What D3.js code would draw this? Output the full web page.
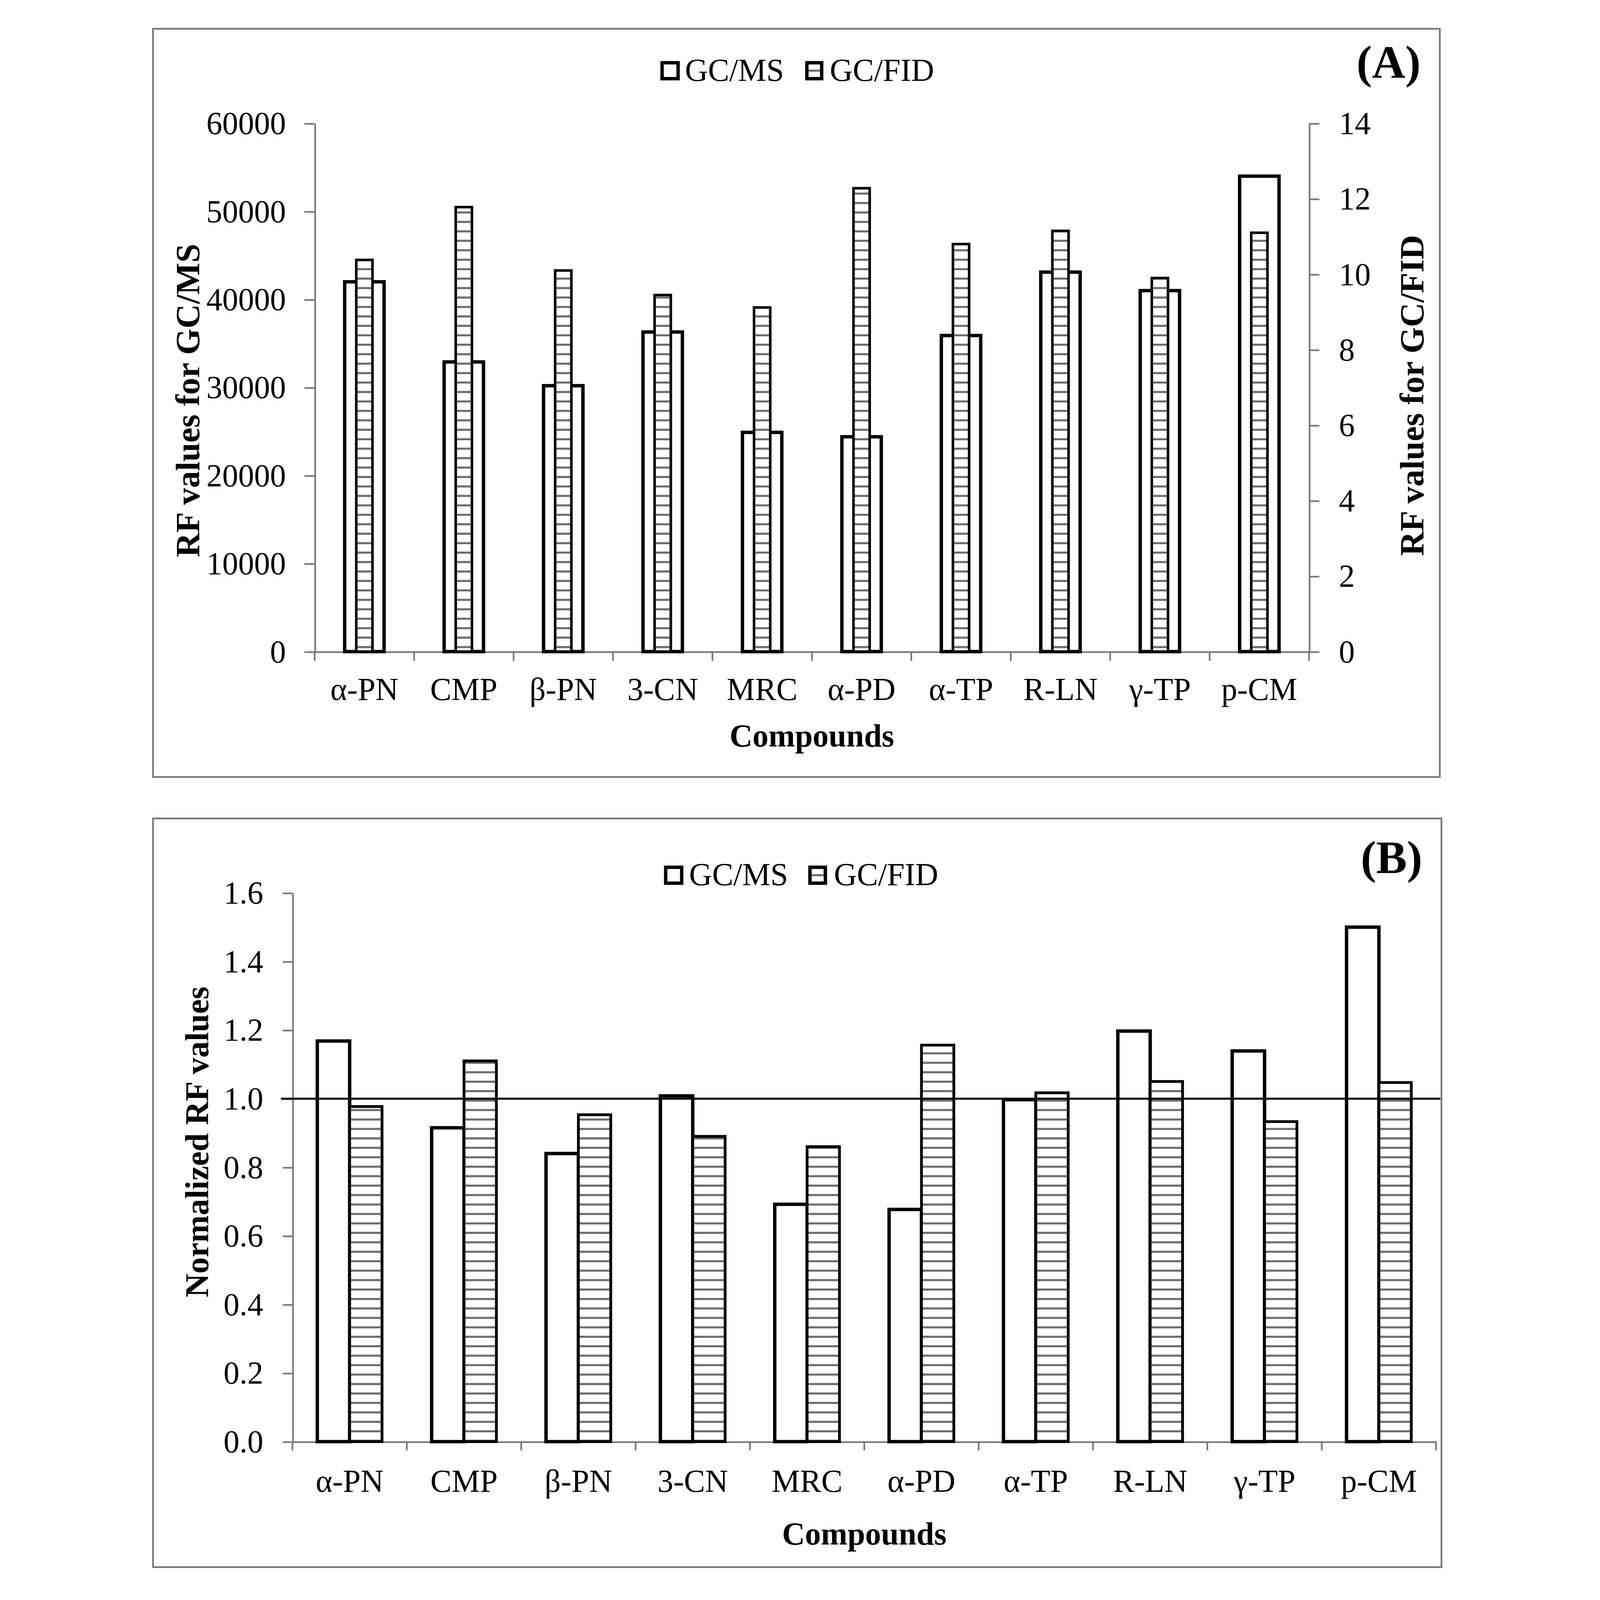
<!DOCTYPE html>
<html>
<head>
<meta charset="utf-8">
<script src="https://cdn.jsdelivr.net/npm/d3@7"></script>
<style>
  html, body { margin: 0; padding: 0; background: #fff; overflow: hidden; }
  .chart svg { display: block; width: 100vw; height: 100vh; }
  text { font-family: "Liberation Serif", "Times New Roman", serif; }
</style>
</head>
<body>
<div class="chart"></div>
<script>
// data ------
const compounds = ["α-PN", "CMP", "β-PN", "3-CN", "MRC", "α-PD", "α-TP", "R-LN", "γ-TP", "p-CM"];
const seriesNames = ["GC/MS", "GC/FID"];
// panel A, raw response factors
const rfMS = [42000, 32900, 30200, 36300, 24900, 24400, 35900, 43100, 41000, 54000];
const rfFID = [10.38, 11.78, 10.10, 9.45, 9.12, 12.28, 10.80, 11.15, 9.90, 11.10];
// panel B, normalized
const normMS = [1.168, 0.915, 0.840, 1.008, 0.692, 0.677, 0.997, 1.197, 1.139, 1.500];
const normFID = [0.977, 1.110, 0.953, 0.890, 0.860, 1.156, 1.017, 1.050, 0.933, 1.047];
const msTicks = [0, 10000, 20000, 30000, 40000, 50000, 60000];
const fidTicks = [0, 2, 4, 6, 8, 10, 12, 14];
const normTicks = [0, 0.2, 0.4, 0.6, 0.8, 1.0, 1.2, 1.4, 1.6];

const W = 1328, H = 1558;
const gray = "#777";

const svg = d3.select(".chart")
  .append("svg")
  .attr("viewBox", `0 0 ${W} ${H}`)
  .attr("preserveAspectRatio", "xMidYMid meet");

const defs = svg.append("defs");
const pat = defs.append("pattern")
  .attr("id", "hstripe")
  .attr("patternUnits", "userSpaceOnUse")
  .attr("width", 10)
  .attr("height", 9.2);
pat.append("rect").attr("width", 10).attr("height", 9.2).attr("fill", "#fff");
pat.append("rect").attr("y", 3.5).attr("width", 10).attr("height", 2).attr("fill", "#6b6b6b");

function styleAxis(g) {
  g.attr("font-family", "Liberation Serif, Times New Roman, serif").attr("font-size", 31);
  g.selectAll(".domain").attr("stroke", gray).attr("stroke-width", 1.6);
  g.selectAll(".tick line").attr("stroke", gray).attr("stroke-width", 1.6);
  g.selectAll(".tick text").attr("fill", "#000");
}

function frame(x, y, w, h) {
  svg.append("rect")
    .attr("x", x).attr("y", y).attr("width", w).attr("height", h)
    .attr("fill", "none").attr("stroke", gray).attr("stroke-width", 1.7);
}

function legend(base, boxes) {
  const g = svg.append("g");
  boxes.forEach((b, i) => {
    g.append("rect")
      .attr("x", b.bx).attr("y", base - 17.5).attr("width", b.bw).attr("height", 15.5)
      .attr("fill", "#fff")
      .attr("stroke", "#000").attr("stroke-width", 3.3);
    if (i === 1) {
      g.append("rect")
        .attr("x", b.bx + 1.5).attr("y", base - 10.8).attr("width", b.bw - 3).attr("height", 2)
        .attr("fill", "#6b6b6b");
    }
    g.append("text")
      .attr("x", b.tx).attr("y", base)
      .attr("font-size", 31)
      .text(seriesNames[i]);
  });
}

function boundaryTicks(x, y0, len) {
  const pos = compounds.map(c => x(c)).concat([x.range()[1]]);
  svg.append("g").selectAll("line")
    .data(pos)
    .join("line")
    .attr("x1", d => d).attr("x2", d => d)
    .attr("y1", y0).attr("y2", y0 + len)
    .attr("stroke", gray).attr("stroke-width", 1.6);
}

// PANEL A -------------------
frame(34, 28, 1253, 728.6);

const xA = d3.scaleBand().domain(compounds).range([191.4, 1159.7]);
const yA = d3.scaleLinear().domain([0, 60000]).range([634.5, 120.1]);
const yA2 = d3.scaleLinear().domain([0, 14]).range([634.5, 120.1]);

svg.append("g")
  .attr("transform", `translate(${xA.range()[0]},0)`)
  .call(d3.axisLeft(yA).tickValues(msTicks).tickSize(10).tickPadding(18).tickSizeOuter(0).tickFormat(d3.format("d")))
  .call(styleAxis);

svg.append("g")
  .attr("transform", `translate(${xA.range()[1]},0)`)
  .call(d3.axisRight(yA2).tickValues(fidTicks).tickSize(10).tickPadding(19).tickSizeOuter(0).tickFormat(d3.format("d")))
  .call(styleAxis);

svg.append("g")
  .attr("transform", `translate(0,${yA(0)})`)
  .call(d3.axisBottom(xA).tickSize(0).tickPadding(25).tickSizeOuter(0))
  .call(styleAxis);
boundaryTicks(xA, yA(0), 9);

const bwA = xA.bandwidth();
svg.append("g").selectAll("rect")
  .data(compounds)
  .join("rect")
  .attr("x", d => xA(d) + bwA * (1 - 0.396) / 2)
  .attr("width", bwA * 0.396)
  .attr("y", (d, i) => yA(rfMS[i]))
  .attr("height", (d, i) => yA(0) - yA(rfMS[i]))
  .attr("fill", "#fff").attr("stroke", "#000").attr("stroke-width", 3.3);

svg.append("g").selectAll("rect")
  .data(compounds)
  .join("rect")
  .attr("x", d => xA(d) + bwA * (1 - 0.163) / 2)
  .attr("width", bwA * 0.163)
  .attr("y", (d, i) => yA2(rfFID[i]))
  .attr("height", (d, i) => yA2(0) - yA2(rfFID[i]))
  .attr("fill", "url(#hstripe)").attr("stroke", "#000").attr("stroke-width", 2.5);

legend(78.6, [{bx: 529.7, bw: 15.6, tx: 552}, {bx: 670.7, bw: 14.4, tx: 693}]);

svg.append("text")
  .attr("x", 1268.4).attr("y", 75.6)
  .attr("text-anchor", "end").attr("font-size", 45).attr("font-weight", "bold")
  .text("(A)");

svg.append("text")
  .attr("x", (xA.range()[0] + xA.range()[1]) / 2).attr("y", 727)
  .attr("text-anchor", "middle").attr("font-size", 31).attr("font-weight", "bold")
  .text("Compounds");

svg.append("text")
  .attr("transform", "translate(79,390) rotate(-90)")
  .attr("text-anchor", "middle").attr("font-size", 33).attr("font-weight", "bold")
  .text("RF values for GC/MS");

svg.append("text")
  .attr("transform", "translate(1271,385) rotate(-90)")
  .attr("text-anchor", "middle").attr("font-size", 33).attr("font-weight", "bold")
  .text("RF values for GC/FID");

// PANEL B -------------------
frame(34, 797, 1254.6, 729);

const xB = d3.scaleBand().domain(compounds).range([169.8, 1283.4]);
const yB = d3.scaleLinear().domain([0, 1.6]).range([1403.8, 869.4]);

svg.append("g")
  .attr("transform", `translate(${xB.range()[0]},0)`)
  .call(d3.axisLeft(yB).tickValues(normTicks).tickSize(9.4).tickPadding(19).tickSizeOuter(0).tickFormat(d3.format(".1f")))
  .call(styleAxis);

svg.append("g")
  .attr("transform", `translate(0,${yB(0)})`)
  .call(d3.axisBottom(xB).tickSize(0).tickPadding(27).tickSizeOuter(0))
  .call(styleAxis);
boundaryTicks(xB, yB(0), 8.5);

const bwB = xB.bandwidth();
const barB = bwB * 0.283;
svg.append("g").selectAll("rect")
  .data(compounds)
  .join("rect")
  .attr("x", d => xB(d) + bwB / 2 - barB)
  .attr("width", barB)
  .attr("y", (d, i) => yB(normMS[i]))
  .attr("height", (d, i) => yB(0) - yB(normMS[i]))
  .attr("fill", "#fff").attr("stroke", "#000").attr("stroke-width", 3.3);

svg.append("g").selectAll("rect")
  .data(compounds)
  .join("rect")
  .attr("x", d => xB(d) + bwB / 2)
  .attr("width", barB)
  .attr("y", (d, i) => yB(normFID[i]))
  .attr("height", (d, i) => yB(0) - yB(normFID[i]))
  .attr("fill", "url(#hstripe)").attr("stroke", "#000").attr("stroke-width", 2.7);

// reference line at 1.0
svg.append("line")
  .attr("x1", 158.6).attr("x2", 1287.5)
  .attr("y1", yB(1)).attr("y2", yB(1))
  .attr("stroke", "#000").attr("stroke-width", 2);

legend(862, [{bx: 533.2, bw: 15.6, tx: 556}, {bx: 673.7, bw: 15, tx: 697}]);

svg.append("text")
  .attr("x", 1270).attr("y", 850)
  .attr("text-anchor", "end").attr("font-size", 45).attr("font-weight", "bold")
  .text("(B)");

svg.append("text")
  .attr("x", (xB.range()[0] + xB.range()[1]) / 2).attr("y", 1504)
  .attr("text-anchor", "middle").attr("font-size", 31).attr("font-weight", "bold")
  .text("Compounds");

svg.append("text")
  .attr("transform", "translate(87.7,1112) rotate(-90)")
  .attr("text-anchor", "middle").attr("font-size", 32).attr("font-weight", "bold")
  .text("Normalized RF values");
</script>
</body>
</html>
